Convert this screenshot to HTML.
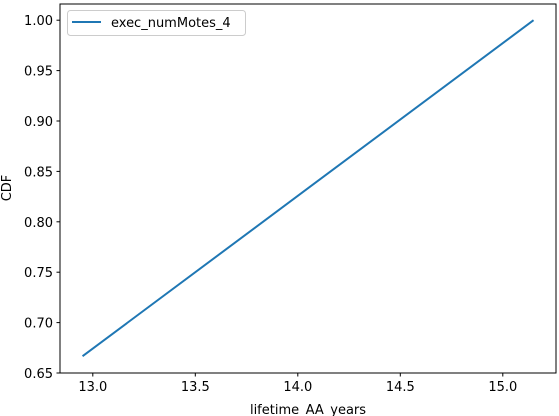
<!DOCTYPE html>
<html><head><meta charset="utf-8"><style>
body{margin:0;background:#fff;}
svg{display:block;font-family:"DejaVu Sans","Liberation Sans",sans-serif;}
</style></head><body>
<svg id="chart" width="559" height="416">
<rect x="0" y="0" width="559" height="416" fill="#fff"/>
<g id="xt"></g>
<g id="yt"></g>
<polyline id="line" fill="none" stroke="#1f77b4" stroke-width="2"/>
<rect x="60" y="4" width="496" height="369" fill="none" stroke="#000" stroke-width="1"/>
<text x="308" y="414" font-size="13" text-anchor="middle">lifetime_AA_years</text>
<text transform="translate(11,188) rotate(-90)" font-size="13" text-anchor="middle">CDF</text>
<g>
<rect x="67.5" y="10.5" width="178" height="25" rx="3" fill="#fff" stroke="#ccc"/>
<line x1="72" y1="22" x2="101" y2="22" stroke="#1f77b4" stroke-width="2"/>
<text x="111" y="27" font-size="13">exec_numMotes_4</text>
</g>
</svg>
<script>
const xs=[12.95,14.05,15.15];
const ys=[0.6667,0.8333,1.0];
const xTicks=[13.0,13.5,14.0,14.5,15.0];
const yTicks=[0.65,0.70,0.75,0.80,0.85,0.90,0.95,1.00];
const X=v=>60+(v-12.84)*205;
const Y=v=>373-(v-0.65)*1008;
const NS="http://www.w3.org/2000/svg";
const line=document.getElementById('line');
line.setAttribute('points',xs.map((x,i)=>X(x)+','+Y(ys[i])).join(' '));
const xt=document.getElementById('xt'),yt=document.getElementById('yt');
xTicks.forEach(t=>{
 const l=document.createElementNS(NS,'line');
 
 
 l.setAttribute('x1',X(t));l.setAttribute('x2',X(t));l.setAttribute('y1',373);l.setAttribute('y2',376.5);l.setAttribute('stroke','#000');
 xt.appendChild(l);
 const s=document.createElementNS(NS,'text');
 
 
 s.setAttribute('x',X(t));s.setAttribute('y',391);s.setAttribute('font-size','13');s.setAttribute('text-anchor','middle');
 s.textContent=t.toFixed(1);xt.appendChild(s);
});
yTicks.forEach(t=>{
 const l=document.createElementNS(NS,'line');
 
 
 l.setAttribute('x1',56.5);l.setAttribute('x2',60);l.setAttribute('y1',Y(t));l.setAttribute('y2',Y(t));l.setAttribute('stroke','#000');
 yt.appendChild(l);
 const s=document.createElementNS(NS,'text');
 
 
 s.setAttribute('x',53);s.setAttribute('y',Y(t)+5);s.setAttribute('font-size','13');s.setAttribute('text-anchor','end');
 s.textContent=t.toFixed(2);yt.appendChild(s);
});
</script>
</body></html>
